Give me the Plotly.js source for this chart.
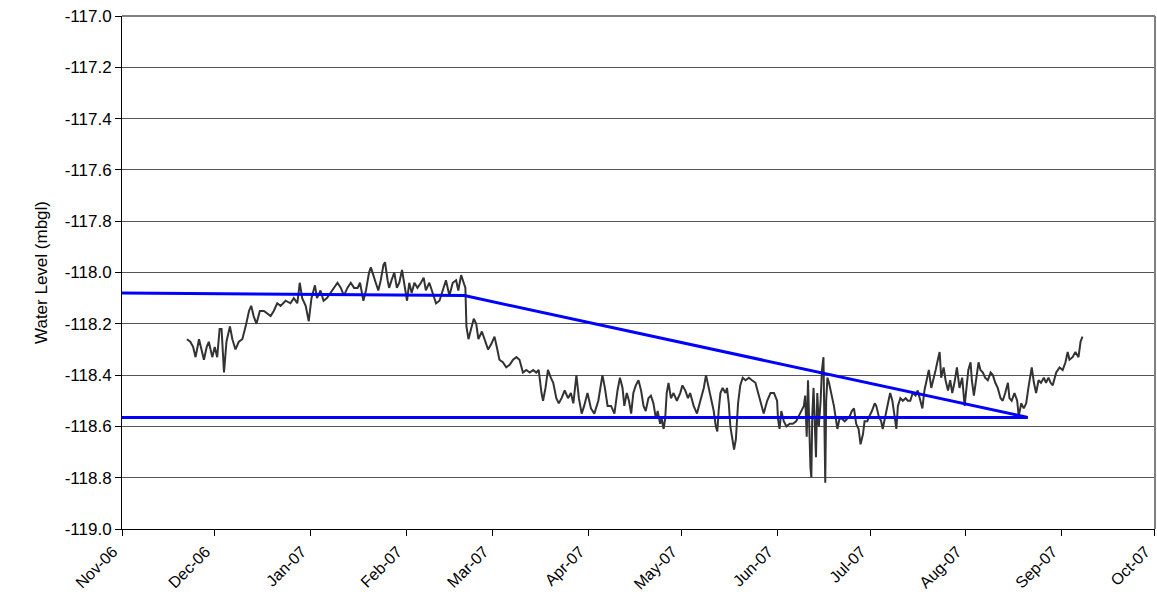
<!DOCTYPE html>
<html>
<head>
<meta charset="utf-8">
<script src="https://cdn.plot.ly/plotly-3.0.1.min.js"></script>
<style>
  html, body { margin: 0; padding: 0; background: #fff; }
  #chart { width: 1157px; height: 605px; }
</style>
</head>
<body>
<div id="chart"></div>
<script>
// Logger record
const levelDates = [
  '2006-11-22 00:00', '2006-11-23 02:00', '2006-11-24 00:00', '2006-11-24 19:00', '2006-11-25 22:00',
  '2006-11-26 14:00', '2006-11-27 12:00', '2006-11-28 10:00', '2006-11-29 02:00', '2006-11-30 05:00',
  '2006-12-01 00:00', '2006-12-01 19:00', '2006-12-02 14:00', '2006-12-03 05:00', '2006-12-04 00:00',
  '2006-12-04 19:00', '2006-12-05 22:00', '2006-12-06 17:00', '2006-12-07 17:00', '2006-12-08 19:00',
  '2006-12-09 22:00', '2006-12-11 00:00', '2006-12-12 02:00', '2006-12-12 19:00', '2006-12-13 14:00',
  '2006-12-14 12:00', '2006-12-15 14:00', '2006-12-16 22:00', '2006-12-18 00:00', '2006-12-19 02:00',
  '2006-12-20 02:00', '2006-12-21 05:00', '2006-12-22 07:00', '2006-12-23 22:00', '2006-12-25 12:00',
  '2006-12-26 14:00', '2006-12-27 17:00', '2006-12-28 12:00', '2006-12-29 07:00', '2006-12-30 10:00',
  '2006-12-31 10:00', '2007-01-01 07:00', '2007-01-02 10:00', '2007-01-03 02:00', '2007-01-04 05:00',
  '2007-01-05 05:00', '2007-01-06 07:00', '2007-01-07 12:00', '2007-01-08 14:00', '2007-01-09 17:00',
  '2007-01-10 19:00', '2007-01-11 19:00', '2007-01-12 22:00', '2007-01-14 00:00', '2007-01-15 02:00',
  '2007-01-16 05:00', '2007-01-17 00:00', '2007-01-18 02:00', '2007-01-18 22:00', '2007-01-19 22:00',
  '2007-01-20 12:00', '2007-01-21 10:00', '2007-01-22 02:00', '2007-01-22 22:00', '2007-01-23 17:00',
  '2007-01-24 14:00', '2007-01-25 02:00', '2007-01-25 22:00', '2007-01-26 10:00', '2007-01-27 05:00',
  '2007-01-28 02:00', '2007-01-28 22:00', '2007-01-29 17:00', '2007-01-30 14:00', '2007-01-31 07:00',
  '2007-02-01 05:00', '2007-02-01 22:00', '2007-02-02 17:00', '2007-02-03 14:00', '2007-02-04 14:00',
  '2007-02-05 17:00', '2007-02-06 14:00', '2007-02-07 07:00', '2007-02-08 10:00', '2007-02-09 12:00',
  '2007-02-10 14:00', '2007-02-11 17:00', '2007-02-12 19:00', '2007-02-13 19:00', '2007-02-14 22:00',
  '2007-02-16 00:00', '2007-02-17 02:00', '2007-02-17 19:00', '2007-02-18 17:00', '2007-02-19 14:00',
  '2007-02-20 02:00', '2007-02-20 10:00', '2007-02-21 02:00', '2007-02-21 22:00', '2007-02-22 19:00',
  '2007-02-23 14:00', '2007-02-24 07:00', '2007-02-25 10:00', '2007-02-26 07:00', '2007-02-27 10:00',
  '2007-02-28 10:00', '2007-03-01 12:00', '2007-03-02 10:00', '2007-03-03 02:00', '2007-03-04 05:00',
  '2007-03-05 07:00', '2007-03-06 10:00', '2007-03-07 12:00', '2007-03-08 14:00', '2007-03-09 14:00',
  '2007-03-10 17:00', '2007-03-11 19:00', '2007-03-12 22:00', '2007-03-14 00:00', '2007-03-15 00:00',
  '2007-03-15 19:00', '2007-03-16 17:00', '2007-03-17 05:00', '2007-03-18 00:00', '2007-03-18 19:00',
  '2007-03-19 17:00', '2007-03-20 12:00', '2007-03-21 12:00', '2007-03-22 07:00', '2007-03-23 05:00',
  '2007-03-24 05:00', '2007-03-25 07:00', '2007-03-26 05:00', '2007-03-27 00:00', '2007-03-28 00:00',
  '2007-03-28 19:00', '2007-03-29 17:00', '2007-03-30 12:00', '2007-03-31 14:00', '2007-04-01 17:00',
  '2007-04-02 19:00', '2007-04-04 02:00', '2007-04-05 10:00', '2007-04-06 05:00', '2007-04-07 02:00',
  '2007-04-08 05:00', '2007-04-09 07:00', '2007-04-10 07:00', '2007-04-11 02:00', '2007-04-11 22:00',
  '2007-04-12 12:00', '2007-04-13 07:00', '2007-04-14 00:00', '2007-04-14 17:00', '2007-04-15 10:00',
  '2007-04-16 05:00', '2007-04-17 02:00', '2007-04-17 22:00', '2007-04-18 17:00', '2007-04-19 10:00',
  '2007-04-20 07:00', '2007-04-21 02:00', '2007-04-21 22:00', '2007-04-22 17:00', '2007-04-23 07:00',
  '2007-04-24 02:00', '2007-04-24 14:00', '2007-04-25 05:00', '2007-04-25 17:00', '2007-04-26 05:00',
  '2007-04-26 19:00', '2007-04-27 14:00', '2007-04-28 10:00', '2007-04-29 12:00', '2007-04-30 14:00',
  '2007-05-01 07:00', '2007-05-02 05:00', '2007-05-03 02:00', '2007-05-03 19:00', '2007-05-04 22:00',
  '2007-05-06 00:00', '2007-05-07 02:00', '2007-05-08 05:00', '2007-05-08 22:00', '2007-05-09 19:00',
  '2007-05-10 14:00', '2007-05-11 10:00', '2007-05-12 02:00', '2007-05-12 14:00', '2007-05-13 00:00',
  '2007-05-13 14:00', '2007-05-14 07:00', '2007-05-15 05:00', '2007-05-15 17:00', '2007-05-16 07:00',
  '2007-05-16 19:00', '2007-05-17 10:00', '2007-05-18 00:00', '2007-05-18 14:00', '2007-05-19 07:00',
  '2007-05-20 00:00', '2007-05-20 19:00', '2007-05-21 17:00', '2007-05-22 19:00', '2007-05-23 19:00',
  '2007-05-24 22:00', '2007-05-25 19:00', '2007-05-26 22:00', '2007-05-27 14:00', '2007-05-28 17:00',
  '2007-05-29 19:00', '2007-05-30 22:00', '2007-05-31 22:00', '2007-06-01 05:00', '2007-06-01 17:00',
  '2007-06-02 07:00', '2007-06-03 02:00', '2007-06-03 22:00', '2007-06-05 00:00', '2007-06-06 00:00',
  '2007-06-07 02:00', '2007-06-07 22:00', '2007-06-08 19:00', '2007-06-09 14:00', '2007-06-10 00:00',
  '2007-06-10 12:00', '2007-06-10 22:00', '2007-06-11 05:00', '2007-06-11 17:00', '2007-06-12 00:00',
  '2007-06-12 07:00', '2007-06-12 17:00', '2007-06-13 02:00', '2007-06-13 12:00', '2007-06-13 22:00',
  '2007-06-14 10:00', '2007-06-15 00:00', '2007-06-15 10:00', '2007-06-15 22:00', '2007-06-16 05:00',
  '2007-06-16 12:00', '2007-06-16 19:00', '2007-06-17 05:00', '2007-06-17 17:00', '2007-06-18 12:00',
  '2007-06-19 07:00', '2007-06-19 19:00', '2007-06-20 10:00', '2007-06-21 02:00', '2007-06-21 22:00',
  '2007-06-22 19:00', '2007-06-23 14:00', '2007-06-24 10:00', '2007-06-25 02:00', '2007-06-25 19:00',
  '2007-06-26 12:00', '2007-06-27 07:00', '2007-06-27 22:00', '2007-06-28 17:00', '2007-06-29 05:00',
  '2007-06-30 02:00', '2007-06-30 19:00', '2007-07-01 14:00', '2007-07-02 12:00', '2007-07-03 00:00',
  '2007-07-03 19:00', '2007-07-04 14:00', '2007-07-05 02:00', '2007-07-06 00:00', '2007-07-06 19:00',
  '2007-07-07 12:00', '2007-07-08 05:00', '2007-07-08 22:00', '2007-07-09 12:00', '2007-07-10 00:00',
  '2007-07-10 19:00', '2007-07-11 14:00', '2007-07-12 12:00', '2007-07-13 05:00', '2007-07-14 00:00',
  '2007-07-14 19:00', '2007-07-15 17:00', '2007-07-16 10:00', '2007-07-17 05:00', '2007-07-17 22:00',
  '2007-07-18 14:00', '2007-07-19 10:00', '2007-07-20 00:00', '2007-07-20 19:00', '2007-07-21 12:00',
  '2007-07-22 05:00', '2007-07-22 22:00', '2007-07-23 12:00', '2007-07-24 00:00', '2007-07-24 19:00',
  '2007-07-25 10:00', '2007-07-26 05:00', '2007-07-26 22:00', '2007-07-27 14:00', '2007-07-28 07:00',
  '2007-07-29 02:00', '2007-07-29 22:00', '2007-07-30 19:00', '2007-07-31 14:00', '2007-08-01 07:00',
  '2007-08-01 19:00', '2007-08-02 12:00', '2007-08-02 22:00', '2007-08-03 14:00', '2007-08-04 07:00',
  '2007-08-05 02:00', '2007-08-05 17:00', '2007-08-06 12:00', '2007-08-07 05:00', '2007-08-08 02:00',
  '2007-08-09 00:00', '2007-08-09 17:00', '2007-08-10 12:00', '2007-08-11 07:00', '2007-08-12 05:00',
  '2007-08-12 22:00', '2007-08-13 17:00', '2007-08-14 14:00', '2007-08-15 02:00', '2007-08-15 19:00',
  '2007-08-16 17:00', '2007-08-17 14:00', '2007-08-18 02:00', '2007-08-18 22:00', '2007-08-19 17:00',
  '2007-08-20 12:00', '2007-08-21 05:00', '2007-08-21 22:00', '2007-08-22 07:00', '2007-08-23 00:00',
  '2007-08-23 17:00', '2007-08-24 12:00', '2007-08-25 07:00', '2007-08-26 05:00', '2007-08-26 22:00',
  '2007-08-27 17:00', '2007-08-28 10:00', '2007-08-29 02:00', '2007-08-30 05:00', '2007-08-31 07:00',
  '2007-09-01 07:00', '2007-09-02 05:00', '2007-09-02 22:00', '2007-09-03 12:00', '2007-09-04 12:00',
  '2007-09-05 10:00', '2007-09-06 10:00', '2007-09-07 02:00', '2007-09-07 17:00',
];

const levelValues = [
  -118.26, -118.27, -118.29, -118.33, -118.26, -118.29, -118.34, -118.29, -118.27, -118.33,
  -118.29, -118.33, -118.22, -118.22, -118.39, -118.27, -118.21, -118.26, -118.30, -118.27,
  -118.26, -118.21, -118.15, -118.13, -118.17, -118.20, -118.15, -118.15, -118.16, -118.17,
  -118.15, -118.12, -118.13, -118.11, -118.12, -118.10, -118.12, -118.04, -118.10, -118.13,
  -118.19, -118.10, -118.05, -118.10, -118.07, -118.11, -118.10, -118.08, -118.06, -118.04,
  -118.06, -118.09, -118.06, -118.04, -118.06, -118.06, -118.04, -118.11, -118.07, -118.00,
  -117.98, -118.01, -118.04, -118.07, -118.03, -117.97, -117.96, -118.03, -118.06, -118.03,
  -118.00, -118.06, -118.04, -117.99, -118.04, -118.11, -118.04, -118.08, -118.04, -118.06,
  -118.04, -118.02, -118.07, -118.04, -118.08, -118.12, -118.11, -118.07, -118.03, -118.09,
  -118.04, -118.03, -118.07, -118.01, -118.04, -118.06, -118.21, -118.26, -118.22, -118.18,
  -118.20, -118.26, -118.23, -118.26, -118.30, -118.28, -118.25, -118.30, -118.34, -118.35,
  -118.37, -118.36, -118.34, -118.33, -118.34, -118.39, -118.38, -118.39, -118.38, -118.39,
  -118.38, -118.47, -118.50, -118.45, -118.38, -118.41, -118.43, -118.49, -118.51, -118.49,
  -118.46, -118.49, -118.47, -118.51, -118.40, -118.49, -118.55, -118.52, -118.47, -118.53,
  -118.55, -118.50, -118.40, -118.45, -118.52, -118.52, -118.55, -118.46, -118.41, -118.45,
  -118.52, -118.47, -118.50, -118.55, -118.47, -118.44, -118.42, -118.46, -118.52, -118.54,
  -118.49, -118.48, -118.51, -118.57, -118.54, -118.59, -118.57, -118.61, -118.57, -118.47,
  -118.43, -118.49, -118.47, -118.50, -118.47, -118.44, -118.46, -118.49, -118.47, -118.52,
  -118.55, -118.50, -118.45, -118.40, -118.45, -118.50, -118.54, -118.60, -118.62, -118.54,
  -118.47, -118.45, -118.47, -118.45, -118.51, -118.60, -118.65, -118.69, -118.65, -118.51,
  -118.44, -118.41, -118.42, -118.41, -118.42, -118.43, -118.47, -118.52, -118.55, -118.50,
  -118.47, -118.47, -118.50, -118.57, -118.61, -118.54, -118.58, -118.60, -118.59, -118.59,
  -118.58, -118.56, -118.54, -118.52, -118.48, -118.64, -118.42, -118.56, -118.76, -118.80,
  -118.56, -118.45, -118.63, -118.72, -118.47, -118.60, -118.50, -118.38, -118.33, -118.56,
  -118.82, -118.50, -118.41, -118.43, -118.47, -118.52, -118.56, -118.61, -118.57, -118.57,
  -118.58, -118.57, -118.56, -118.54, -118.53, -118.59, -118.61, -118.67, -118.63, -118.58,
  -118.58, -118.56, -118.54, -118.51, -118.52, -118.56, -118.58, -118.61, -118.55, -118.51,
  -118.47, -118.50, -118.56, -118.61, -118.52, -118.49, -118.50, -118.49, -118.50, -118.50,
  -118.47, -118.48, -118.46, -118.50, -118.53, -118.46, -118.41, -118.38, -118.45, -118.42,
  -118.38, -118.34, -118.31, -118.41, -118.37, -118.42, -118.46, -118.42, -118.47, -118.43,
  -118.37, -118.45, -118.41, -118.52, -118.43, -118.38, -118.35, -118.42, -118.48, -118.42,
  -118.35, -118.38, -118.39, -118.41, -118.42, -118.39, -118.40, -118.43, -118.45, -118.49,
  -118.50, -118.47, -118.43, -118.49, -118.50, -118.47, -118.50, -118.56, -118.51, -118.53,
  -118.51, -118.45, -118.40, -118.37, -118.43, -118.47, -118.42, -118.43, -118.41, -118.43,
  -118.41, -118.43, -118.44, -118.39, -118.37, -118.38, -118.35, -118.31, -118.34, -118.33,
  -118.31, -118.33, -118.27, -118.25,
];

// Blue interpretation lines
const trendDates = ['2006-11-01', '2007-02-19 18:00', '2007-08-21'];
const trendValues = [-118.08, -118.09, -118.565];
const baseDates = ['2006-11-01', '2007-08-21'];
const baseValues = [-118.565, -118.565];

const yTicks = [-119.0, -118.8, -118.6, -118.4, -118.2, -118.0, -117.8, -117.6, -117.4, -117.2, -117.0];
const yLabels = ['-119.0', '-118.8', '-118.6', '-118.4', '-118.2', '-118.0', '-117.8', '-117.6', '-117.4', '-117.2', '-117.0'];
const monthTicks = [
  '2006-11-01', '2006-12-01', '2007-01-01', '2007-02-01', '2007-03-01', '2007-04-01',
  '2007-05-01', '2007-06-01', '2007-07-01', '2007-08-01', '2007-09-01', '2007-10-01',
];
const monthLabels = [
  'Nov-06', 'Dec-06', 'Jan-07', 'Feb-07', 'Mar-07', 'Apr-07',
  'May-07', 'Jun-07', 'Jul-07', 'Aug-07', 'Sep-07', 'Oct-07',
];

const FONT = 'Liberation Sans, Arial, sans-serif';

const traces = [
  {
    x: levelDates,
    y: levelValues,
    type: 'scatter',
    mode: 'lines',
    line: { color: '#333333', width: 2 },
    hoverinfo: 'x+y',
  },
  {
    x: baseDates,
    y: baseValues,
    type: 'scatter',
    mode: 'lines',
    line: { color: '#0000ff', width: 3 },
  },
  {
    x: trendDates,
    y: trendValues,
    type: 'scatter',
    mode: 'lines',
    line: { color: '#0000ff', width: 3 },
  },
];

const layout = {
  width: 1157,
  height: 605,
  margin: { l: 122, r: 2, t: 16, b: 76 },
  paper_bgcolor: '#ffffff',
  plot_bgcolor: '#ffffff',
  showlegend: false,
  font: { family: FONT, size: 17, color: '#000' },
  xaxis: {
    type: 'date',
    range: ['2006-11-01', '2007-10-01 04:00'],
    tickmode: 'array',
    tickvals: monthTicks,
    ticktext: monthLabels,
    tickangle: -45,
    ticklabeloverflow: 'allow',
    ticklabelshift: -9,
    ticks: 'outside',
    ticklen: 6,
    tickcolor: '#000',
    showgrid: false,
    showline: true,
    linecolor: '#000',
    linewidth: 1,
    zeroline: false,
    tickfont: { family: FONT, size: 16, color: '#000' },
  },
  yaxis: {
    range: [-119, -117],
    tickmode: 'array',
    tickvals: yTicks,
    ticktext: yLabels,
    ticks: 'outside',
    ticklen: 6,
    tickcolor: '#000',
    showgrid: true,
    gridcolor: '#555555',
    gridwidth: 1,
    showline: true,
    linecolor: '#000',
    linewidth: 1,
    zeroline: false,
    tickfont: { family: FONT, size: 17, color: '#000' },
    title: { text: 'Water Level (mbgl)', font: { family: FONT, size: 17, color: '#000' }, standoff: 12 },
  },
  // plot-area frame on the top and right edges
  shapes: [
    { type: 'line', xref: 'paper', yref: 'paper', x0: 0, x1: 1, y0: 1, y1: 1, line: { color: '#808080', width: 2 } },
    { type: 'line', xref: 'paper', yref: 'paper', x0: 1, x1: 1, y0: 0, y1: 1, line: { color: '#808080', width: 2 } },
  ],
};

Plotly.newPlot('chart', traces, layout, { displayModeBar: false, staticPlot: true });
</script>
</body>
</html>
